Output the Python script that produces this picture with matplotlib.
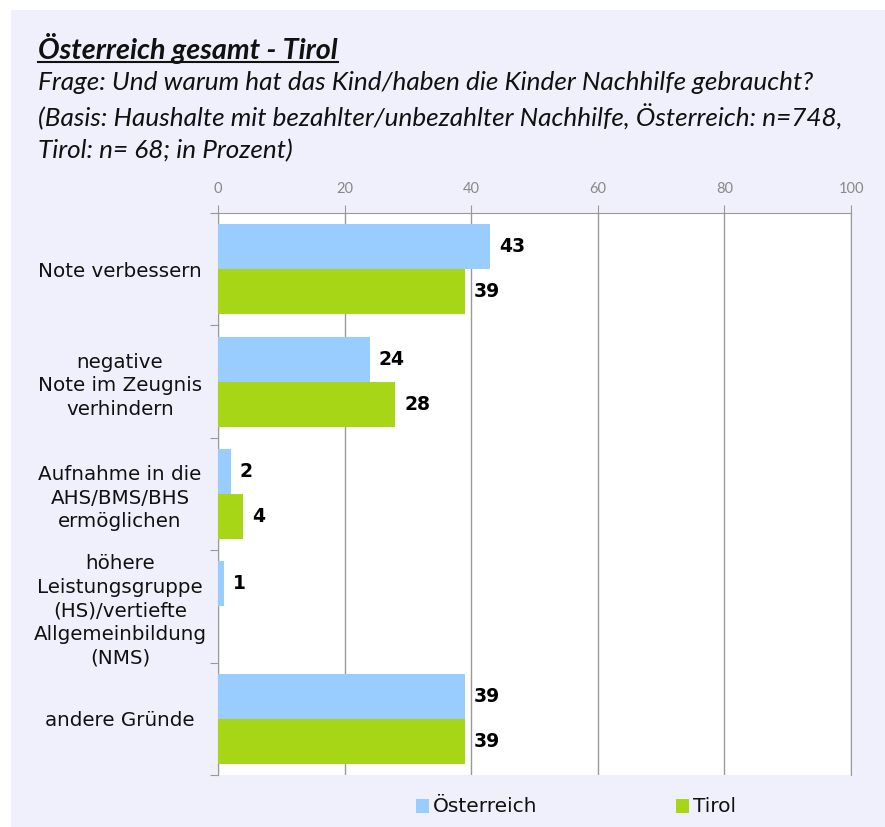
import matplotlib
matplotlib.use("Agg")
import matplotlib.pyplot as plt
import matplotlib.transforms as mtransforms
from matplotlib.patches import Rectangle
from matplotlib.lines import Line2D
import numpy as np

categories = ["Note verbessern",
              "negative\nNote im Zeugnis\nverhindern",
              "Aufnahme in die\nAHS/BMS/BHS\nermöglichen",
              "höhere\nLeistungsgruppe\n(HS)/vertiefte\nAllgemeinbildung\n(NMS)",
              "andere Gründe"]
oesterreich = [43, 24, 2, 1, 39]
tirol = [39, 28, 4, None, 39]
series_names = ["Österreich", "Tirol"]
xticks = [0, 20, 40, 60, 80, 100]

c_oe = "#99CCFF"
c_ti = "#A6D615"
bg = "#F0F0FC"

W, H = 885, 827
fig = plt.figure(figsize=(W/100, H/100), dpi=100)
fig.patch.set_facecolor("white")
fig.add_artist(Rectangle((11/W, 0), 1 - 11/W, 1 - 10/H, transform=fig.transFigure,
                         facecolor=bg, edgecolor="none", zorder=-10))

x0, x1 = 218, 851
y0, y1 = 213, 775
ax = fig.add_axes([x0/W, 1 - y1/H, (x1-x0)/W, (y1-y0)/H])
ax.set_facecolor("white")

n = len(categories)
pos = np.arange(n)
bh = 0.4
oe_vals = [v if v is not None else 0 for v in oesterreich]
ti_vals = [v if v is not None else 0 for v in tirol]
ax.barh(pos - bh/2, oe_vals, height=bh, color=c_oe, zorder=3)
ax.barh(pos + bh/2, ti_vals, height=bh, color=c_ti, zorder=3)
for i in range(n):
    if oesterreich[i] is not None:
        ax.text(oesterreich[i] + 1.4, pos[i] - bh/2, str(oesterreich[i]), va="center", ha="left",
                fontsize=13.5, fontweight="bold", color="black", zorder=4)
    if tirol[i] is not None:
        ax.text(tirol[i] + 1.4, pos[i] + bh/2, str(tirol[i]), va="center", ha="left",
                fontsize=13.5, fontweight="bold", color="black", zorder=4)

ax.set_xlim(0, 100)
ax.set_ylim(n - 0.5, -0.5)
ax.xaxis.tick_top()
ax.set_xticks(xticks)
ax.set_xticklabels([str(t) for t in xticks], fontsize=10.5, color="#888888", family="Lato")
ax.tick_params(axis="x", length=6, color="#999999", pad=6)
ax.grid(axis="x", color="#999999", linewidth=1, zorder=1)
ax.set_yticks(np.arange(-0.5, n, 1.0))
ax.set_yticklabels([])
ax.tick_params(axis="y", length=6, color="#999999")
ax.set_yticks(pos, minor=True)
ax.set_yticklabels(categories, minor=True, fontsize=14.3, color="#111111",
                   multialignment="center", linespacing=1.3)
ax.tick_params(axis="y", which="minor", length=0)
for s in ["top", "left", "right"]:
    ax.spines[s].set_color("#999999")
ax.spines["bottom"].set_visible(False)
# center category labels at x ~ 120 px
blend = mtransforms.blended_transform_factory(fig.transFigure, ax.transData)
for lab in ax.get_yticklabels(minor=True):
    lab.set_horizontalalignment("center")
    lab.set_transform(blend)
    lab.set_x(120/W)

# Titles
tf = "Lato"
t = fig.text(38/W, 1 - 48/H, "Österreich gesamt - Tirol", fontsize=20.7, fontstyle="italic",
             fontweight="bold", family=tf, va="center", ha="left", color="#111111")
fig.canvas.draw()
bb = t.get_window_extent()
fig.add_artist(Line2D([bb.x0/W, bb.x1/W], [(1 - 62/H), (1 - 62/H)],
                      transform=fig.transFigure, color="#111111", linewidth=1.5))
subs = ["Frage: Und warum hat das Kind/haben die Kinder Nachhilfe gebraucht?",
        "(Basis: Haushalte mit bezahlter/unbezahlter Nachhilfe, Österreich: n=748,",
        "Tirol: n= 68; in Prozent)"]
for k, s in enumerate(subs):
    fig.text(38/W, 1 - (83 + 34*k)/H, s, fontsize=18.8, fontstyle="italic", family=tf,
             va="center", ha="left", color="#111111")

# Legend
leg_items = [(416, c_oe, series_names[0]), (676, c_ti, series_names[1])]
for lx, col, name in leg_items:
    fig.add_artist(Rectangle((lx/W, 1 - 813/H), 13/W, 14/H, transform=fig.transFigure,
                             facecolor=col, edgecolor="none"))
    fig.text((lx + 17)/W, 1 - 806/H, name, fontsize=14.5, va="center", ha="left", color="#111111")

fig.savefig("out.png", dpi=100, facecolor=fig.get_facecolor())
